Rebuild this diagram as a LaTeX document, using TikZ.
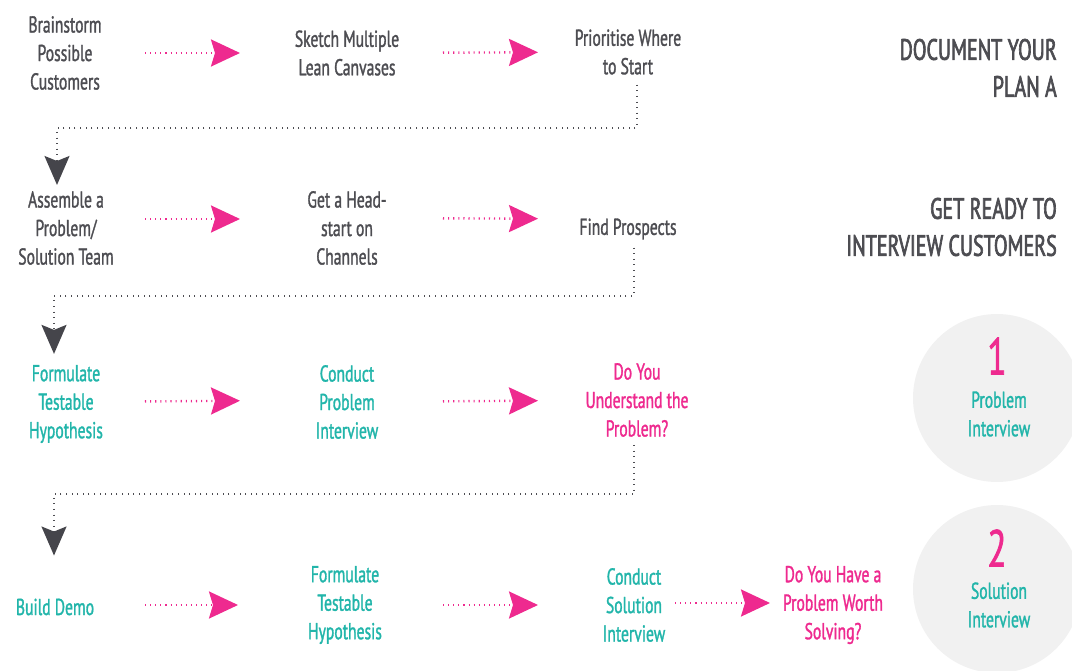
\documentclass[tikz,border=0pt]{standalone}
\usepackage{fontspec}
\setmainfont{PT Sans}[FakeStretch=0.68,FakeBold=1.3]
\newfontfamily\headfont{PT Sans}[FakeStretch=0.68,FakeBold=2.2]
\usetikzlibrary{arrows.meta}
\definecolor{txtgray}{HTML}{4D4D52}
\definecolor{tealc}{HTML}{22B5AA}
\definecolor{pinkc}{HTML}{EE2A8F}
\definecolor{headgray}{HTML}{45454B}
\definecolor{discgray}{HTML}{F1F1F1}
\begin{document}
\begin{tikzpicture}[x=1pt,y=-1pt,
  lbl/.style={align=center,inner sep=2pt,font=\fontsize{23}{28.5}\selectfont},
  grey/.style={lbl,text=txtgray},
  teal/.style={lbl,text=tealc},
  pink/.style={lbl,text=pinkc},
  heading/.style={align=right,anchor=east,inner sep=0pt,text=txtgray,
    font=\headfont\fontsize{29.5}{37}\selectfont},
  flow/.style 2 args={draw=pinkc,line width=2.4pt,dash pattern=on 1.1pt off 4pt,
    shorten <=#1,shorten >=#2,
    -{Stealth[length=29pt,width=27pt,inset=4pt,fill=pinkc]}},
  link/.style={draw=txtgray,line width=1.8pt,dash pattern=on 1pt off 4.6pt,
    -{Stealth[length=29pt,width=25pt,inset=5pt,fill=headgray,color=headgray]}},
  disc/.style={circle,fill=discgray,minimum size=168pt,inner sep=0pt}
]
\useasboundingbox (0,0) rectangle (1072,671);
\clip (0,0) rectangle (1072,671);

% stage discs on the right
\node[disc] (s1) at (997,398) {};
\node[disc] (s2) at (997,589) {};
\node[text=pinkc,font=\fontsize{52}{52}\selectfont,inner sep=0pt] (n1) at (997,356) {1};
\node[teal] (t1) at (999,414) {Problem\\Interview};
\node[text=pinkc,font=\fontsize{52}{52}\selectfont,inner sep=0pt] (n2) at (997,548) {2};
\node[teal] (t2) at (999,605) {Solution\\Interview};

% phase headings
\node[heading] (h1) at (1057,68) {DOCUMENT YOUR\\PLAN A};
\node[heading] (h2) at (1057,227) {GET READY TO\\INTERVIEW CUSTOMERS};

% row 1
\node[grey] (b1) at (65,53) {Brainstorm\\Possible\\Customers};
\node[grey] (b2) at (347,53) {Sketch Multiple\\Lean Canvases};
\node[grey] (b3) at (628,52) {Prioritise Where\\to Start};

% row 2
\node[grey] (a1) at (66,228) {Assemble a\\Problem/\\Solution Team};
\node[grey] (a2) at (347,228) {Get a Head-\\start on\\Channels};
\node[grey] (a3) at (628,229) {Find Prospects};

% row 3
\node[teal] (f1) at (66,404) {Formulate\\Testable\\Hypothesis};
\node[teal] (f2) at (347,402) {Conduct\\Problem\\Interview};
\node[pink] (f3) at (637,400) {Do You\\Understand the\\Problem?};

% row 4
\node[teal] (d1) at (55,607) {Build Demo};
\node[teal] (d2) at (345,605) {Formulate\\Testable\\Hypothesis};
\node[teal] (d3) at (634,605) {Conduct\\Solution\\Interview};
\node[pink] (d4) at (833,605) {Do You Have a\\Problem Worth\\Solving?};

% horizontal steps
\draw[flow={80pt}{107pt}] (b1.center) -- (b2.center);
\draw[flow={96pt}{90pt}] (b2.center) -- (b3.center);
\draw[flow={79pt}{107pt}] ([yshift=9pt]a1.center) -- ([yshift=9pt]a2.center);
\draw[flow={96pt}{90pt}] ([yshift=10pt]a2.center) -- ([yshift=10pt]a3.center);
\draw[flow={79pt}{107pt}] ([yshift=2pt]f1.center) -- ([yshift=2pt]f2.center);
\draw[flow={96pt}{99pt}] (f2.center) -- ([yshift=2pt]f2.center -| f3.center);
\draw[flow={90pt}{107pt}] ([yshift=2pt]d1.center -| d1.center) -- ([yshift=2pt]d1.center -| d2.center);
\draw[flow={98pt}{96pt}] (d2.center) -- (d3.center);
\draw[flow={41pt}{63pt}] ([yshift=2pt]d3.center) -- ([yshift=2pt]d4.center);

% links between rows
\coordinate (k1) at (57,128);
\coordinate (k2) at (54,296);
\coordinate (k3) at (54,494);
\draw[link,shorten >=4pt] ([xshift=9pt,yshift=-8pt]b3.south) |- (k1) -- (k1 |- a1.north);
\draw[link,shorten >=9pt] ([xshift=6pt,yshift=-6pt]a3.south) |- (k2) -- (k2 |- f1.north);
\draw[link,shorten >=41pt] ([xshift=-3pt,yshift=-6pt]f3.south) |- (k3) -- (k3 |- d1.north);
\end{tikzpicture}
\end{document}
